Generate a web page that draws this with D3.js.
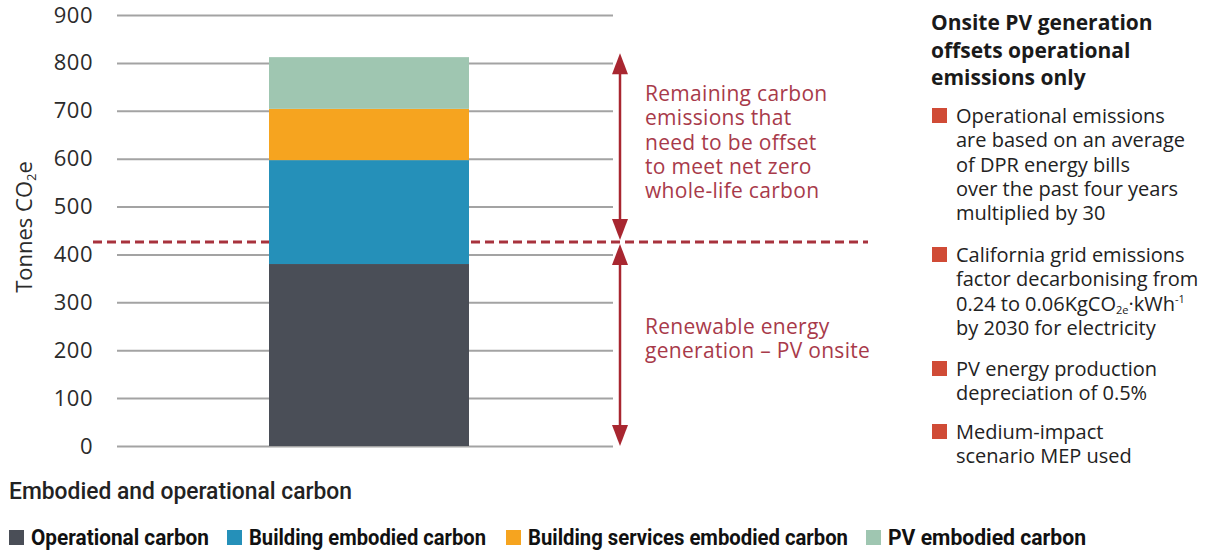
<!DOCTYPE html>
<html>
<head>
<meta charset="utf-8">
<script src="https://cdn.jsdelivr.net/npm/d3@7"></script>
<style>
  body { margin: 0; background: #fff; }
  svg { display: block; }
</style>
</head>
<body>
<svg width="1211" height="550"></svg>
<script>
// chart data
var categories = ['Embodied and operational carbon'];
var seriesNames = ['Operational carbon', 'Building embodied carbon', 'Building services embodied carbon', 'PV embodied carbon'];
var seriesValues = [380, 217, 107, 108];
var seriesColors = ['#4a4e57', '#2590b9', '#f6a41f', '#9fc6b1'];
var yTicks = [0, 100, 200, 300, 400, 500, 600, 700, 800, 900];
var offsetLevel = 426; // dashed line: PV onsite generation

var notesTitle = ['Onsite PV generation', 'offsets operational', 'emissions only'];
var notes = [
  ['Operational emissions', 'are based on an average', 'of DPR energy bills', 'over the past four years', 'multiplied by 30'],
  ['California grid emissions', 'factor decarbonising from', '0.24 to 0.06KgCO2e·kWh-1', 'by 2030 for electricity'],
  ['PV energy production', 'depreciation of 0.5%'],
  ['Medium-impact', 'scenario MEP used']
];
var upperLabel = ['Remaining carbon', 'emissions that', 'need to be offset', 'to meet net zero', 'whole-life carbon'];
var lowerLabel = ['Renewable energy', 'generation – PV onsite'];

var svg = d3.select('svg');
var red = '#a8323d';
var font = "'Open Sans', 'Noto Sans', sans-serif";
var narrow = "Roboto, 'Liberation Sans', sans-serif";

var y = d3.scaleLinear().domain([0, 900]).range([446, 15]);
var x = d3.scaleBand().domain(categories).range([117, 621]).paddingOuter(0.76).paddingInner(0);

// stack the single column
var stacked = [];
var acc = 0;
seriesValues.forEach(function(v, i) {
  stacked.push({ name: seriesNames[i], y0: acc, y1: acc + v, color: seriesColors[i] });
  acc += v;
});
var total = acc;

// gridlines
var ga = svg.append('g').attr('transform', 'translate(613,0)')
  .call(d3.axisRight(y).tickValues(yTicks).tickSize(-496).tickFormat(''));
ga.select('.domain').remove();
ga.selectAll('.tick line').attr('stroke', '#a3a3a3').attr('stroke-width', 2);

// tick labels
var gl = svg.append('g').attr('transform', 'translate(93,0)')
  .call(d3.axisLeft(y).tickValues(yTicks).tickSize(0).tickPadding(0));
gl.select('.domain').remove();
gl.selectAll('.tick text')
  .attr('fill', '#2b2b2b').attr('font-size', 22).attr('letter-spacing', 0.5).attr('font-family', font);

// axis title
var yt = svg.append('text')
  .attr('transform', 'translate(32,227) rotate(-90)')
  .attr('text-anchor', 'middle')
  .attr('fill', '#2b2b2b').attr('font-size', 22).attr('font-family', font);
yt.append('tspan').text('Tonnes CO');
yt.append('tspan').attr('font-size', 13).attr('dy', 4).text('2');
yt.append('tspan').attr('dy', -4).text('e');

// dashed offset line (behind bar)
svg.append('line')
  .attr('x1', 93).attr('x2', 868)
  .attr('y1', y(offsetLevel)).attr('y2', y(offsetLevel))
  .attr('stroke', red).attr('stroke-width', 3)
  .attr('stroke-dasharray', '9,5');

// bars
svg.selectAll('rect.seg')
  .data(stacked)
  .enter()
  .append('rect')
  .attr('class', 'seg')
  .attr('x', x(categories[0]))
  .attr('width', x.bandwidth())
  .attr('y', function(d) { return y(d.y1); })
  .attr('height', function(d) { return y(d.y0) - y(d.y1); })
  .attr('fill', function(d) { return d.color; });

// double headed arrows
var ax = 620;
var arrowRed = '#a82630';
function arrow(yTop, yBot) {
  svg.append('line').attr('x1', ax).attr('x2', ax)
    .attr('y1', yTop + 10).attr('y2', yBot - 10)
    .attr('stroke', arrowRed).attr('stroke-width', 2.5);
  svg.append('path')
    .attr('d', 'M' + ax + ',' + yTop + 'L' + (ax - 8) + ',' + (yTop + 21) + 'L' + (ax + 8) + ',' + (yTop + 21) + 'Z')
    .attr('fill', arrowRed);
  svg.append('path')
    .attr('d', 'M' + ax + ',' + yBot + 'L' + (ax - 8) + ',' + (yBot - 21) + 'L' + (ax + 8) + ',' + (yBot - 21) + 'Z')
    .attr('fill', arrowRed);
}
arrow(y(total) - 4, y(offsetLevel) - 2);
arrow(y(offsetLevel) + 2, y(0));

// text blocks
function block(lines, x0, y0, lh, attrs) {
  var t = svg.append('text').attr('x', x0).attr('y', y0);
  Object.keys(attrs).forEach(function(k) { t.attr(k, attrs[k]); });
  lines.forEach(function(s, i) {
    t.append('tspan').attr('x', x0).attr('y', y0 + i * lh).text(s);
  });
  return t;
}
var redTxt = { fill: '#a83a4a', 'font-size': 21, 'font-family': font, 'letter-spacing': 0.3 };
block(upperLabel, 645, 101, 24.3, redTxt);
block(lowerLabel, 645, 334, 24.3, redTxt);

// right side notes
block(notesTitle, 931, 30, 27.5, { fill: '#1a1a1a', 'font-size': 21, 'font-weight': 'bold', 'font-family': font });

var noteY = [123, 262, 376, 439];
notes.forEach(function(lines, i) {
  svg.append('rect').attr('x', 932).attr('y', noteY[i] - 15).attr('width', 15).attr('height', 15)
    .attr('fill', '#d04b36');
  var t = svg.append('text').attr('fill', '#222').attr('font-size', 20).attr('font-family', font);
  lines.forEach(function(s, j) {
    var ts = t.append('tspan').attr('x', 956).attr('y', noteY[i] + j * 24.3);
    if (s.indexOf('CO2e') >= 0) {
      ts.text('0.24 to 0.06KgCO');
      t.append('tspan').attr('font-size', 11).attr('dy', 3).text('2e');
      t.append('tspan').attr('dy', -3).text('·kWh');
      t.append('tspan').attr('font-size', 11).attr('dy', -8).text('-1');
    } else {
      ts.text(s);
    }
  });
});

// category label
svg.append('text')
  .attr('x', 9).attr('y', 499)
  .attr('fill', '#222').attr('font-size', 23).attr('font-weight', 500).attr('font-family', narrow)
  .attr('textLength', 343).attr('lengthAdjust', 'spacingAndGlyphs')
  .text(categories[0]);

// legend
var legX = [9, 227, 506, 866];
var legW = [178, 237, 320, 198];
var leg = svg.selectAll('g.leg')
  .data(stacked)
  .enter()
  .append('g')
  .attr('class', 'leg')
  .attr('transform', function(d, i) { return 'translate(' + legX[i] + ',0)'; });
leg.append('rect').attr('x', 0).attr('y', 530).attr('width', 15).attr('height', 15)
  .attr('fill', function(d) { return d.color; });
leg.append('text')
  .attr('x', 22).attr('y', 545)
  .attr('fill', '#111').attr('font-size', 22).attr('font-weight', 'bold').attr('font-family', narrow)
  .attr('textLength', function(d, i) { return legW[i]; }).attr('lengthAdjust', 'spacingAndGlyphs')
  .text(function(d) { return d.name; });
</script>
</body>
</html>
